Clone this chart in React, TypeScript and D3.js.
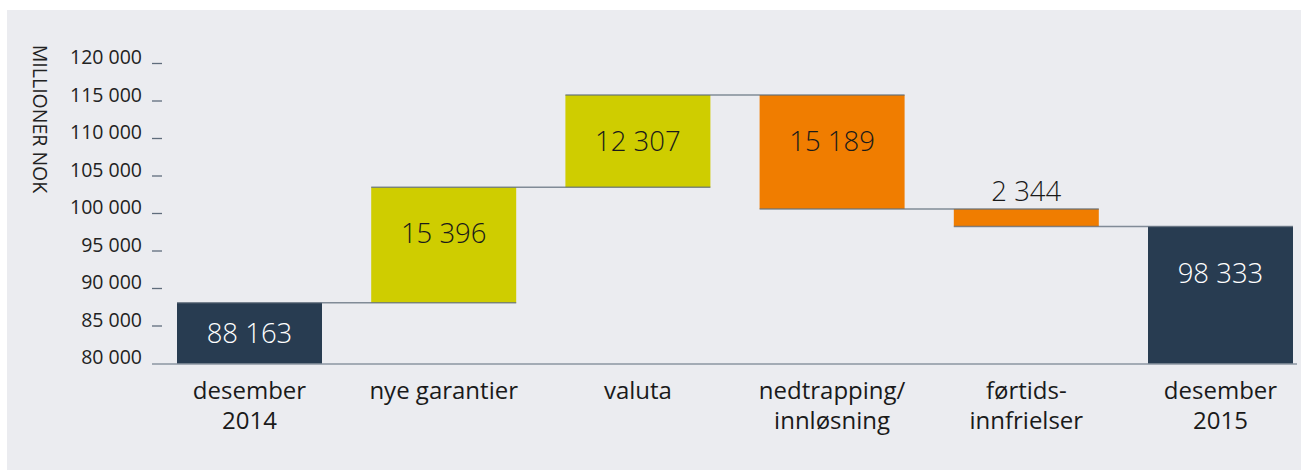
import * as React from "react";
import { scaleBand, scaleLinear } from "d3";

const categories = [
    ["desember", "2014"],
    ["nye garantier"],
    ["valuta"],
    ["nedtrapping/", "innløsning"],
    ["førtids-", "innfrielser"],
    ["desember", "2015"],
];
const kinds = ["total", "up", "up", "down", "down", "total"];
const values = [88163, 15396, 12307, 15189, 2344, 98333];
const yTicks = [80000, 85000, 90000, 95000, 100000, 105000, 110000, 115000, 120000];

const colors: Record<string, string> = { total: "#283c51", up: "#cfcd00", down: "#f07d00" };
const fmt = (v: number) => String(v).replace(/\B(?=(\d{3})+(?!\d))/g, " ");
const font = "'Open Sans', 'Noto Sans', sans-serif";

const App: React.FC = () => {
    const width = 1301, height = 471;

    const x = scaleBand<number>()
        .domain(values.map((_, i) => i))
        .range([152.4, 1317.6])
        .paddingInner(0.2534)
        .paddingOuter(0.1267);
    const y = scaleLinear().domain([80000, 120000]).range([364, 64]);
    const bw = x.bandwidth();

    // running level for the waterfall
    let level = 0;
    const bars = values.map((v, i) => {
        let lo: number, hi: number;
        if (kinds[i] === "total") { lo = 80000; hi = v; level = v; }
        else if (kinds[i] === "up") { lo = level; hi = level + v; level = hi; }
        else { hi = level; lo = level - v; level = lo; }
        return { i, v, lo, hi, end: level, kind: kinds[i] };
    });

    return (
        <svg width={width} height={height} style={{ position: "absolute", left: 0, top: 0 }} fontFamily={font}>
            <rect x={7} y={10} width={width - 7} height={460} fill="#ebecf0" />

            <text transform="translate(33,119) rotate(90)" textAnchor="middle" fontSize={19.5} fill="#222">
                MILLIONER NOK
            </text>

            {yTicks.map(t => (
                <g key={t}>
                    <text x={142} y={y(t)} textAnchor="end" fontSize={19.5} fill="#222">{fmt(t)}</text>
                    {t !== 80000 && <line x1={152} x2={162} y1={y(t) - 0.5} y2={y(t) - 0.5} stroke="#5f6d7c" strokeWidth={1.3} />}
                </g>
            ))}

            {bars.map(b => {
                const top = y(b.hi), bottom = y(b.lo);
                return <rect key={b.i} x={x(b.i)} y={top} width={bw} height={bottom - top} fill={colors[b.kind]} />;
            })}

            <line x1={152} x2={1297} y1={y(80000)} y2={y(80000)} stroke="#8b96a2" strokeWidth={1.6} />

            {bars.slice(0, -1).map(b => (
                <line key={b.i} x1={x(b.i)} x2={(x(b.i + 1) as number) + bw} y1={y(b.end)} y2={y(b.end)}
                      stroke="#5d6b7a" strokeOpacity={0.75} strokeWidth={1.5} />
            ))}

            {bars.map(b => {
                const top = y(b.hi), h = y(b.lo) - top;
                const cx = (x(b.i) as number) + bw / 2;
                const base = h < 30 ? top - 8 : top + Math.min(h / 2, 46) + 10;
                const fill = b.kind === "total" ? "#ffffff" : "#1a1a1a";
                return (
                    <text key={b.i} x={cx} y={base} textAnchor="middle" fontSize={27.5} fontWeight={300} fill={fill}>
                        {fmt(b.v)}
                    </text>
                );
            })}

            {categories.map((lines, i) => (
                <text key={i} x={(x(i) as number) + bw / 2} textAnchor="middle" fontSize={24} fill="#1a1a1a">
                    {lines.map((l, j) => <tspan key={j} x={(x(i) as number) + bw / 2} y={399 + j * 30}>{l}</tspan>)}
                </text>
            ))}
        </svg>
    );
};

export default App;
